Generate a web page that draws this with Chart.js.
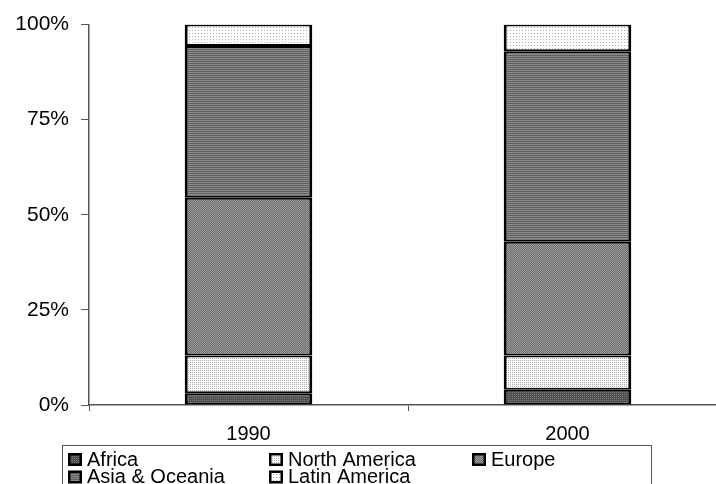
<!DOCTYPE html>
<html>
<head>
<meta charset="utf-8">
<script src="https://cdn.jsdelivr.net/npm/chart.js@4"></script>
<style>
  html, body { margin: 0; padding: 0; background: #fff; overflow: hidden; }
  #wrap { width: 716px; height: 484px; overflow: hidden; }
</style>
</head>
<body>
<div id="wrap"><canvas id="regions" width="740" height="520"></canvas></div>
<script>
// categories and series (share of total, %)
const years = ['1990', '2000'];
const africa = [3.1, 4.0];
const northAmerica = [9.9, 9.0];
const europe = [41.5, 29.9];
const asiaOceania = [39.9, 50.1];
const latinAmerica = [5.6, 7.0];
const yTicks = [0, 25, 50, 75, 100];

const FONT = '"Liberation Sans", Arial, sans-serif';

// small pixel patterns, like the old Excel fills
function makePattern(size, bg, dots) {
    const c = document.createElement('canvas');
    c.width = size; c.height = size;
    const g = c.getContext('2d');
    g.fillStyle = bg;
    g.fillRect(0, 0, size, size);
    dots.forEach(d => {
        g.fillStyle = d[2];
        g.fillRect(d[0], d[1], 1, 1);
    });
    return g.createPattern(c, 'repeat');
}

const pAfrica = makePattern(2, '#4f4f4f', [[0, 0, '#777']]);
const pNorth = makePattern(2, '#ffffff', [[0, 0, '#a8a8a8']]);
const pEurope = makePattern(2, '#6c6c6c', [[0, 0, '#9c9c9c'], [1, 1, '#9c9c9c']]);
const pAsia = makePattern(2, '#5e5e5e', [[0, 0, '#8c8c8c'], [1, 0, '#8c8c8c']]);
const pLatin = makePattern(3, '#ffffff', [[0, 0, '#b0b0b0']]);

// legend drawn in a box, three columns, like the reference
const legendCols = [68, 269, 472];
const boxLegend = {
    id: 'boxLegend',
    afterDraw(chart) {
        const ctx = chart.ctx;
        const top = chart.chartArea.bottom + 40;
        ctx.save();
        ctx.strokeStyle = '#555';
        ctx.lineWidth = 1;
        ctx.strokeRect(62.5, top + 0.5, 589, 60);
        ctx.font = '20px ' + FONT;
        ctx.textBaseline = 'middle';
        chart.data.datasets.forEach((ds, i) => {
            const x = legendCols[i % 3];
            const y = top + 14 + Math.floor(i / 3) * 17.5;
            ctx.fillStyle = '#000';
            ctx.fillRect(x, y - 6, 14, 13);
            ctx.fillStyle = ds.backgroundColor;
            ctx.fillRect(x + 2.5, y - 3.5, 9, 8);
            ctx.fillStyle = '#000';
            ctx.fillText(ds.label, x + 19, y + 1);
        });
        ctx.restore();
    }
};

const border = { left: 3, right: 3, top: 2, bottom: 2 };
function ds(label, data, fill) {
    return {
        label: label,
        data: data,
        backgroundColor: fill,
        borderColor: '#000',
        borderWidth: border,
        borderSkipped: false,
        categoryPercentage: 1,
        barPercentage: 0.4
    };
}

new Chart(document.getElementById('regions'), {
    type: 'bar',
    data: {
        labels: years,
        datasets: [
            ds('Africa', africa, pAfrica),
            ds('North America', northAmerica, pNorth),
            ds('Europe', europe, pEurope),
            ds('Asia & Oceania', asiaOceania, pAsia),
            ds('Latin America', latinAmerica, pLatin)
        ]
    },
    options: {
        responsive: false,
        animation: false,
        layout: { padding: { left: 0, top: 22, right: 13, bottom: 75 } },
        plugins: {
            legend: { display: false },
            tooltip: { enabled: false }
        },
        scales: {
            x: {
                stacked: true,
                offset: true,
                grid: { offset: true, drawOnChartArea: false, tickLength: 6, color: '#555' },
                border: { color: '#555', width: 1.5 },
                ticks: { color: '#000', font: { family: FONT, size: 20 }, padding: 11 },
                afterFit: s => { s.height = 40; }
            },
            y: {
                stacked: true,
                min: 0,
                max: 100,
                afterBuildTicks: s => { s.ticks = yTicks.map(v => ({ value: v })); },
                grid: { drawOnChartArea: false, tickLength: 8, color: '#555' },
                border: { color: '#555', width: 1.5 },
                ticks: {
                    color: '#000',
                    font: { family: FONT, size: 21 },
                    padding: 12,
                    callback: v => v + '%'
                },
                afterFit: s => { s.width = 89; }
            }
        }
    },
    plugins: [boxLegend]
});
</script>
</body>
</html>
